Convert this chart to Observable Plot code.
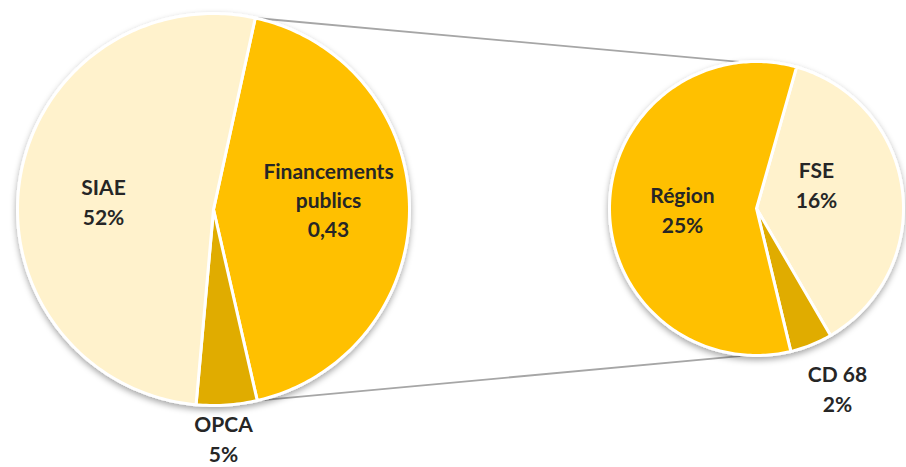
<!DOCTYPE html>
<html>
<head>
<meta charset="utf-8">
<script src="https://cdn.jsdelivr.net/npm/d3@7"></script>
<script src="https://cdn.jsdelivr.net/npm/@observablehq/plot@0.6"></script>
<style>
  html, body { margin: 0; padding: 0; background: #fff; }
</style>
</head>
<body>
<div id="chart"></div>
<script>
// ---- data ----
const mainCategories = ["Financements publics", "OPCA", "SIAE"];
const mainValues = [43, 5, 52];
const mainValueLabels = ["0,43", "5%", "52%"];
const subCategories = ["FSE", "CD 68", "Région"];
const subValues = [16, 2, 25];
const subValueLabels = ["16%", "2%", "25%"];
const mainColors = ["#FFC000", "#E0AC00", "#FFF2CC"];
const subColors = ["#FFF2CC", "#E0AC00", "#FFC000"];

// ---- layout ----
const W = 906, H = 467;
const left = {cx: 213, cy: 209, r: 196, start: 12.3};
const right = {cx: 756, cy: 208, r: 147, start: 15.8};

const rad = d => d * Math.PI / 180;
const pt = (p, a, rr = p.r) => [p.cx + rr * Math.sin(rad(a)), p.cy - rr * Math.cos(rad(a))];

function slices(pie, cats, vals, colors, total) {
  const out = [];
  const bounds = [];
  let a = pie.start;
  cats.forEach((c, i) => {
    const span = vals[i] / total * 360;
    const a0 = a, a1 = a + span;
    bounds.push([a0, a1]);
    out.push({slice: c, color: colors[i], x: pie.cx, y: pie.cy});
    const n = Math.max(2, Math.ceil(span));
    for (let k = 0; k <= n; k++) {
      const [x, y] = pt(pie, a0 + (a1 - a0) * k / n);
      out.push({slice: c, color: colors[i], x, y});
    }
    out.push({slice: c, color: colors[i], x: pie.cx, y: pie.cy});
    a = a1;
  });
  return {pts: out, bounds};
}

const mainTotal = d3.sum(mainValues);
const subTotal = d3.sum(subValues);
const L = slices(left, mainCategories, mainValues, mainColors, mainTotal);
const R = slices(right, subCategories, subValues, subColors, subTotal);

// connector lines: edges of "Financements publics" to the secondary pie
const p1 = pt(left, L.bounds[0][0]), p2 = pt(left, L.bounds[0][1]);
const q1 = pt(right, R.bounds[0][0]), q2 = pt(right, R.bounds[1][1]);
const links = [
  {x1: p1[0], y1: p1[1], x2: q1[0], y2: q1[1]},
  {x1: p2[0], y1: p2[1], x2: q2[0], y2: q2[1]}
];

// labels
const labels = [
  {text: mainCategories[2] + "\n" + mainValueLabels[2], x: 103, y: 200},
  {text: "Financements\npublics\n" + mainValueLabels[0], x: 328, y: 198},
  {text: mainCategories[1] + "\n" + mainValueLabels[1], x: 223, y: 437},
  {text: subCategories[2] + "\n" + subValueLabels[2], x: 682, y: 208},
  {text: subCategories[0] + "\n" + subValueLabels[0], x: 816, y: 183},
  {text: subCategories[1] + "\n" + subValueLabels[1], x: 837, y: 387}
];

const chart = Plot.plot({
  width: W,
  height: H,
  margin: 0,
  x: {domain: [0, W], range: [0, W], axis: null},
  y: {domain: [0, H], range: [0, H], axis: null},
  color: {type: "identity"},
  style: {background: "#fff"},
  marks: [
    Plot.link(links, {x1: "x1", y1: "y1", x2: "x2", y2: "y2", stroke: "#A6A6A6", strokeWidth: 1.8}),
    Plot.line(L.pts, {x: "x", y: "y", z: "slice", fill: "color", stroke: "#fff", strokeWidth: 3, strokeLinejoin: "round", curve: "linear"}),
    Plot.line(R.pts, {x: "x", y: "y", z: "slice", fill: "color", stroke: "#fff", strokeWidth: 3, strokeLinejoin: "round", curve: "linear"}),
    Plot.text(labels, {x: "x", y: "y", text: "text", fill: "#262626", fontSize: 21, fontWeight: "bold", fontFamily: "Lato", lineHeight: 1.4})
  ]
});

// drop shadow under the pies
const ns = "http://www.w3.org/2000/svg";
const defs = document.createElementNS(ns, "defs");
defs.innerHTML = '<filter id="sh" x="-10%" y="-10%" width="120%" height="125%"><feDropShadow dx="0" dy="3" stdDeviation="3" flood-color="#000" flood-opacity="0.35"/></filter>';
chart.insertBefore(defs, chart.firstChild);
chart.querySelectorAll('g[aria-label="line"]').forEach(g => g.setAttribute("filter", "url(#sh)"));
chart.querySelectorAll('text').forEach(t => t.style.fontFamily = "Lato");
document.getElementById("chart").appendChild(chart);
</script>
</body>
</html>
